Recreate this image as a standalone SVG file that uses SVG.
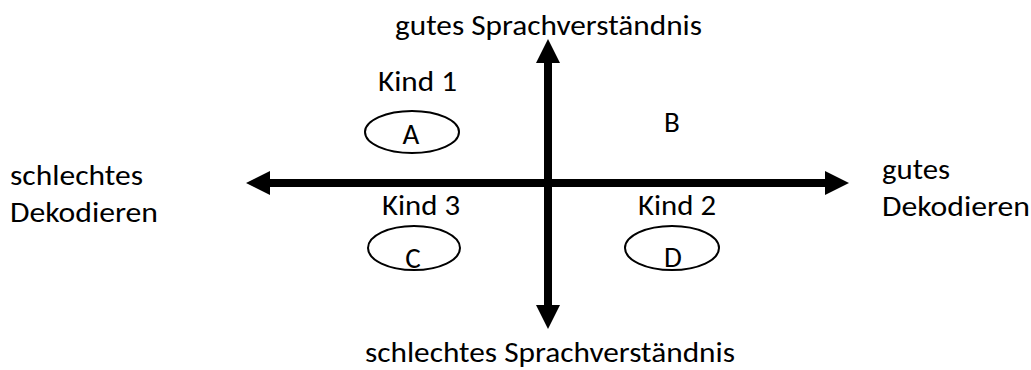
<svg xmlns="http://www.w3.org/2000/svg" width="1031" height="370" viewBox="0 0 1031 370">
<style>
text{font-family:Carlito,Lato,"Open Sans",sans-serif;font-size:29px;fill:#000}
.m{text-anchor:middle}
.node ellipse{fill:#fff;stroke:#000;stroke-width:2}
.axis{stroke:#000;stroke-width:8;fill:none}
</style>
<defs>
<marker id="head" markerUnits="userSpaceOnUse" markerWidth="24" markerHeight="24" viewBox="0 0 23 23" refX="0" refY="11.5" orient="auto-start-reverse">
<path d="M0,0 L23,11.5 L0,23 z" fill="#000"/>
</marker>
</defs>
<rect width="1031" height="370" fill="#fff"/>
<g id="connectors">
<line class="axis" x1="270" y1="183" x2="825" y2="183" marker-start="url(#head)" marker-end="url(#head)"/>
<line class="axis" x1="548" y1="63" x2="548" y2="305" marker-start="url(#head)" marker-end="url(#head)"/>
</g>
<g id="label-top"><text x="395" y="35" textLength="307" lengthAdjust="spacingAndGlyphs">gutes Sprachverständnis</text></g>
<g id="label-bottom"><text x="365" y="362" textLength="370" lengthAdjust="spacingAndGlyphs">schlechtes Sprachverständnis</text></g>
<g id="label-left"><text x="10" y="185" textLength="133" lengthAdjust="spacingAndGlyphs">schlechtes</text><text x="10" y="222" textLength="148" lengthAdjust="spacingAndGlyphs">Dekodieren</text></g>
<g id="label-right"><text x="882" y="179" textLength="68" lengthAdjust="spacingAndGlyphs">gutes</text><text x="882" y="216" textLength="148" lengthAdjust="spacingAndGlyphs">Dekodieren</text></g>
<g id="node-A" class="node"><text x="378" y="91" textLength="79" lengthAdjust="spacingAndGlyphs">Kind 1</text><ellipse cx="412" cy="132" rx="47" ry="21"/><text class="m" x="411" y="144">A</text></g>
<g id="node-B" class="node"><text class="m" x="672" y="132">B</text></g>
<g id="node-C" class="node"><text x="382" y="215" textLength="78" lengthAdjust="spacingAndGlyphs">Kind 3</text><ellipse cx="414" cy="248" rx="46" ry="22"/><text class="m" x="413" y="268">C</text></g>
<g id="node-D" class="node"><text x="638" y="215" textLength="78" lengthAdjust="spacingAndGlyphs">Kind 2</text><ellipse cx="672" cy="248" rx="47" ry="22"/><text class="m" x="673" y="267">D</text></g>
</svg>
